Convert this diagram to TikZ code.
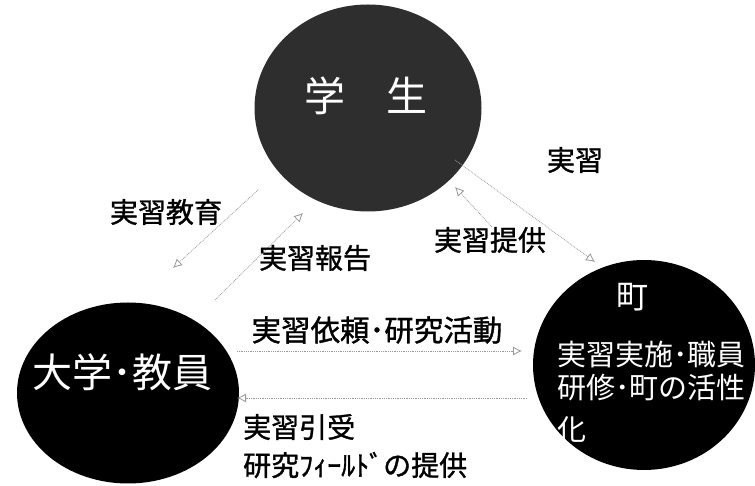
\documentclass[tikz,border=0pt]{standalone}
\usepackage{fontspec}
\newfontfamily\jp[FakeBold=1.2]{Noto Sans CJK JP}
\newfontfamily\jpw{Noto Sans CJK JP}
\usetikzlibrary{shapes.geometric,arrows.meta}
\begin{document}
\begin{tikzpicture}[x=1pt,y=1pt,
  blob/.style={ellipse,inner sep=0pt},
  lbl/.style={inner sep=0pt,font=\jp\fontsize{28}{30}\selectfont},
  wlbl/.style={inner sep=0pt,text=white,font=\jpw\fontsize{29}{30}\selectfont},
  flow/.style={draw=black!40,densely dotted,line width=0.8pt,-{Latex[open,length=9pt,width=9pt]}}]
\useasboundingbox (0,0) rectangle (755,486);
\fill[white] (0,0) rectangle (755,486);
% circles
\node[blob,fill=black!82,minimum width=227pt,minimum height=207pt] (stu) at (368,378) {};
\node[blob,fill=black,minimum width=222pt,minimum height=181pt] (uni) at (128,93) {};
\node[blob,fill=black,minimum width=222pt,minimum height=210pt] (town) at (644,121) {};
% circle texts
\node[wlbl,font=\jpw\fontsize{41}{44}\selectfont] (stut) at (366,390) {学　生};
\node[wlbl,font=\jpw\fontsize{40}{44}\selectfont] (unit) at (122,114) {大学･教員};
\node[wlbl,font=\jpw\fontsize{32}{36}\selectfont] (townt) at (632,189) {町};
\node[wlbl,anchor=west] (tw1) at (557,131) {実習実施･職員};
\node[wlbl,anchor=west] (tw2) at (557,98) {研修･町の活性};
\node[wlbl,anchor=west] (tw3) at (557,56) {化};
% connector end points
\coordinate (a1s) at (258,296); \coordinate (a1e) at (173,218);
\coordinate (a2s) at (215,186); \coordinate (a2e) at (303,273);
\coordinate (a3s) at (455,326); \coordinate (a3e) at (595,224);
\coordinate (a4s) at (492,259); \coordinate (a4e) at (455,299);
\coordinate (a5s) at (237,135); \coordinate (a5e) at (522,135);
\coordinate (a6s) at (527,88);  \coordinate (a6e) at (237,88);
\draw[flow] (a1s) -- (a1e);
\draw[flow] (a2s) -- (a2e);
\draw[flow] (a3s) -- (a3e);
\draw[flow] (a4s) -- (a4e);
\draw[flow] (a5s) -- (a5e);
\draw[flow] (a6s) -- (a6e);
% labels
\node[lbl] (l1) at (575,326) {実習};
\node[lbl] (l2) at (490,246) {実習提供};
\node[lbl] (l3) at (166,274) {実習教育};
\node[lbl] (l4) at (315,228) {実習報告};
\node[lbl,font=\jp\fontsize{29.5}{30}\selectfont] (l5) at (377,156) {実習依頼･研究活動};
\node[lbl,anchor=west] (l6) at (243,59) {実習引受};
\node[lbl,anchor=west] (l7) at (243,21) {研究ﾌｨｰﾙﾄﾞの提供};
\end{tikzpicture}
\end{document}
